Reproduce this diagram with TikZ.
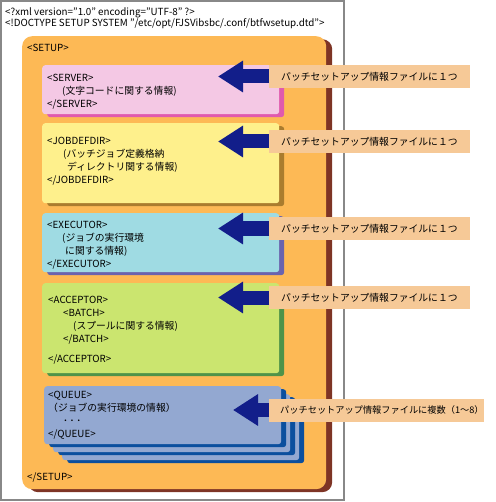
\documentclass[tikz,border=0pt]{standalone}
\usepackage{fontspec}
\setmainfont{Noto Sans CJK JP}
\usetikzlibrary{arrows.meta,shadows}
\definecolor{frameG}{HTML}{888888}
\definecolor{setupO}{HTML}{FDB955}
\definecolor{setupS}{HTML}{7E3425}
\definecolor{serverP}{HTML}{F4C8E4}
\definecolor{serverS}{HTML}{E05AAE}
\definecolor{jobY}{HTML}{FEF08C}
\definecolor{jobS}{HTML}{AA7C2E}
\definecolor{execC}{HTML}{9FDBE3}
\definecolor{execS}{HTML}{6A63AE}
\definecolor{accG}{HTML}{CBE56F}
\definecolor{accS}{HTML}{4F9349}
\definecolor{queueB}{HTML}{93A8D1}
\definecolor{queueS}{HTML}{0B4F9E}
\definecolor{navyA}{HTML}{121E8A}
\definecolor{noteP}{HTML}{F6C997}

\begin{document}
\begin{tikzpicture}[x=1pt, y=-1pt, font=\fontsize{9.8}{13}\selectfont,
  box/.style={anchor=north west, inner sep=0pt, rounded corners=3pt, minimum width=237pt},
  shade/.style={drop shadow={shadow xshift=5pt, shadow yshift=-3pt, fill=#1, opacity=1}},
  tagtext/.style={anchor=north west, inner sep=0pt, align=left},
  note/.style={anchor=west, fill=noteP, inner xsep=12pt, inner ysep=0pt, minimum height=23pt},
  blockarrow/.style={draw=navyA, line width=14pt, -{Triangle[length=25pt,width=30pt]}}]
  \useasboundingbox (0,0) rectangle (495,502);
  % outer frame and xml header
  \draw[frameG, line width=1.3pt] (1,1) rectangle (344,500);
  \node[anchor=base west, inner sep=0pt] (xmldecl) at (5,15.5) {<?xml version="1.0" encoding="UTF-8" ?>};
  \node[anchor=base west, inner sep=0pt] (doctype) at (5,26.7) {<!DOCTYPE SETUP SYSTEM "/etc/opt/FJSVibsbc/.conf/btfwsetup.dtd">};
  % SETUP
  \node[anchor=north west, inner sep=0pt, rounded corners=10pt, fill=setupO,
        drop shadow={shadow xshift=6pt, shadow yshift=-3pt, fill=setupS, opacity=1},
        minimum width=304pt, minimum height=453pt] (setup) at (22,36) {};
  \node[anchor=base west, inner sep=0pt] (setupopen) at (27,51.5) {<SETUP>};
  \node[anchor=base west, inner sep=0pt] (setupclose) at (27,480.5) {</SETUP>};
  % SERVER
  \node[box, shade=serverS, fill=serverP, minimum height=49pt] (server) at (42,65) {};
  \node[tagtext] (servertxt) at ([shift={(5,8.5)}]server.north west)
    {<SERVER>\\ \hspace{15pt}(文字コードに関する情報)\\ </SERVER>};
  % JOBDEFDIR
  \node[box, shade=jobS, fill=jobY, minimum height=80pt] (jobdefdir) at (42,123) {};
  \node[tagtext] (jobdefdirtxt) at ([shift={(5,13.5)}]jobdefdir.north west)
    {<JOBDEFDIR>\\ \hspace{16pt}(バッチジョブ定義格納\\ \hspace{20pt}ディレクトリ関する情報)\\ </JOBDEFDIR>};
  % EXECUTOR
  \node[box, shade=execS, fill=execC, minimum height=59pt] (executor) at (42,213) {};
  \node[tagtext] (executortxt) at ([shift={(5,7.5)}]executor.north west)
    {<EXECUTOR>\\ \hspace{15pt}(ジョブの実行環境\\ \hspace{18pt}に関する情報)\\ </EXECUTOR>};
  % ACCEPTOR
  \node[box, shade=accS, fill=accG, minimum height=90pt] (acceptor) at (42,283) {};
  \node[tagtext] (acceptortxt) at ([shift={(6,12.5)}]acceptor.north west)
    {<ACCEPTOR>\\ \hspace{15pt}<BATCH>\\ \hspace{25pt}(スプールに関する情報)\\ \hspace{15pt}</BATCH>\\[7pt] </ACCEPTOR>};
  % QUEUE (several copies)
  \node[box, shade=queueS, fill=queueB, minimum height=58pt] (queue3) at (62,402) {};
  \node[box, shade=queueS, fill=queueB, minimum height=58pt] (queue2) at (53,394) {};
  \node[box, shade=queueS, fill=queueB, minimum height=58pt] (queue) at (44,386) {};
  \node[tagtext] (queuetxt) at ([shift={(4,4.5)}]queue.north west)
    {<QUEUE>\\ （ジョブの実行環境の情報）\\ \hspace{15pt}･\,･\,･\\ </QUEUE>};
  % notes and arrows
  \node[note] (note1) at (269,76.5) {パッチセットアップ情報ファイルに１つ};
  \node[note] (note2) at (269,141.5) {パッチセットアップ情報ファイルに１つ};
  \node[note] (note3) at (269,228.5) {パッチセットアップ情報ファイルに１つ};
  \node[note] (note4) at (269,297.5) {パッチセットアップ情報ファイルに１つ};
  \node[note, inner xsep=0pt, font=\fontsize{9.2}{13}\selectfont] (note5) at (269,410)
    {\hspace{11pt}パッチセットアップ情報ファイルに複数（1～8）\hspace{-4pt}};
  \draw[blockarrow] (note1.west) -- ++(-51,0);
  \draw[blockarrow] (note2.west) -- ++(-51,0);
  \draw[blockarrow] (note3.west) -- ++(-51,0);
  \draw[blockarrow] (note4.west) -- ++(-51,0);
  \draw[blockarrow] (note5.west) -- ++(-36,0);
\end{tikzpicture}
\end{document}
